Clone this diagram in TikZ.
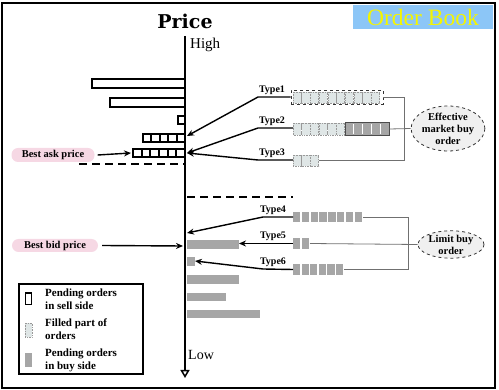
\documentclass[tikz,border=0pt]{standalone}
\usepackage{fontspec}
\setmainfont{Liberation Serif}
\newfontfamily\pricefont{DejaVu Serif}
\usetikzlibrary{arrows.meta,shapes.geometric}
\definecolor{obblue}{HTML}{8CC6F7}
\definecolor{obyellow}{HTML}{F5F500}
\definecolor{pinkpill}{HTML}{F6D8E4}
\definecolor{buygray}{HTML}{A6A6A6}
\definecolor{filled}{HTML}{DFE6E6}
\definecolor{conn}{HTML}{707070}
\definecolor{ellfill}{HTML}{F0F0F0}
\begin{document}
\begin{tikzpicture}[x=1pt,y=-1pt,
  sell/.style={draw=black,line width=1.9pt,fill=white},
  fillcell/.style={draw=gray!80,densely dotted,line width=0.6pt,fill=filled},
  pill/.style={fill=pinkpill,rounded corners=6.5pt,inner sep=0pt,font=\bfseries\fontsize{10.5}{12}\selectfont},
  typelbl/.style={font=\bfseries\fontsize{10}{11}\selectfont,inner sep=1pt},
  blk/.style={line width=1.4pt,-{Stealth[length=7pt,width=6pt]}},
  typeline/.style={line width=1.4pt,-{Stealth[length=7pt,width=6pt]}},
  gline/.style={draw=conn,line width=0.8pt},
  dline/.style={line width=1.5pt,dash pattern=on 8pt off 5pt},
  ell/.style={ellipse,draw=black!80,dashed,line width=0.8pt,fill=ellfill,inner sep=0pt,align=center,font=\bfseries\fontsize{10.5}{12}\selectfont},
  legtxt/.style={anchor=north west,align=left,inner sep=0pt,font=\bfseries\fontsize{11}{13}\selectfont}
]
\useasboundingbox (0,0) rectangle (499,390);
\draw[line width=2pt] (2,3) rectangle (495,388);

% Order book title
\fill[obblue] (353,5) rectangle (493,29);
\node[text=obyellow,font=\fontsize{23.5}{26}\selectfont,inner sep=0pt] (ob) at (423,17) {Order Book};

% Price axis
\node[font=\pricefont\bfseries\fontsize{19}{22}\selectfont,inner sep=0pt] (price) at (185,21) {Price};
\coordinate (axtop) at (185,36);
\coordinate (axbot) at (185,378);
\draw[line width=2pt,-{Triangle[open,length=8pt,width=9pt,line width=1.5pt]}] (axtop) -- (axbot);
\node[anchor=west,font=\fontsize{15}{17}\selectfont,inner sep=0pt] (high) at (190,45) {High};
\node[anchor=west,font=\fontsize{14}{16}\selectfont,inner sep=0pt] (low) at (188,355) {Low};

% Sell side bars
\draw[sell] (92,79) rectangle (185,88);
\draw[sell] (110,98) rectangle (185,107);
\draw[sell] (178,116) rectangle (185,124);
\foreach \i in {0,...,4} \draw[sell] ({143+\i*8.4},134) rectangle ++(8.4,8);
\foreach \i in {0,...,5} \draw[sell] ({133+\i*8.667},149) rectangle ++(8.667,8);
\draw[dline] (79,164) -- (185,164);
\coordinate (askbar) at (131,153);
\coordinate (tip1) at (187,136);
\coordinate (tip23) at (187,153);

% Best ask
\node[pill,minimum width=83pt,minimum height=14pt] (ask) at (53,155) {Best ask price};
\draw[blk] ([xshift=3pt]ask.east) -- (askbar);

% Market buy orders (filled)
\node[draw=black!80,dashed,line width=0.8pt,minimum width=92pt,minimum height=14pt,inner sep=0pt] (b1) at (337,97) {};
\foreach \i in {0,...,9} \draw[fillcell] ({293+\i*8.7},92) rectangle ++(8.2,11);
\foreach \i in {0,...,5} \draw[fillcell] ({293+\i*8.67},123) rectangle ++(8.2,12);
\node[draw=black!70,fill=buygray,line width=1pt,minimum width=44pt,minimum height=13pt,inner sep=0pt] (b2d) at (367,129) {};
\foreach \i in {1,...,4} \draw[white,line width=1.2pt] ({345+\i*8.8},124) -- ({345+\i*8.8},134.5);
\coordinate (b2w) at (293,128);
\foreach \i in {0,...,2} \draw[fillcell] ({293+\i*8.67},155) rectangle ++(8.2,11);
\coordinate (b3w) at (293,160);
\coordinate (b3e) at (319,160);

\node[ell,minimum width=70pt,minimum height=45pt] (mkt) at (448,128.5) {Effective\\market buy\\order};
\draw[gline] (b1.east) -- (404,97) -- (404,160) -- (b3e);
\draw[gline] (b2d.east) -- (mkt.west);

% Type 1-3 connectors
\draw[typeline] (b1.west) -- (258,97) -- (tip1);
\node[typelbl,anchor=south] (t1) at (272,96) {Type1};
\draw[typeline] (b2w) -- (258,128) -- (tip23);
\node[typelbl,anchor=south] (t2) at (272,127) {Type2};
\draw[typeline] (b3w) -- (258,160) -- (tip23);
\node[typelbl,anchor=south] (t3) at (272,159) {Type3};

% Buy side
\draw[dline] (187,197) -- (293,197);
\fill[buygray] (187,240) rectangle (239,249);
\fill[buygray] (187,257) rectangle (195,266);
\fill[buygray] (187,275) rectangle (239,284);
\fill[buygray] (187,293) rectangle (226,301);
\fill[buygray] (187,310) rectangle (260,318);
\coordinate (bidbar) at (183,246);
\coordinate (tip4) at (187,233);
\coordinate (tip5) at (239,243.5);
\coordinate (tip6) at (195,261);

\node[pill,minimum width=86pt,minimum height=13pt] (bid) at (55,245.5) {Best bid price};
\draw[blk] ([xshift=4pt]bid.east) -- (bidbar);

% Limit buy orders
\foreach \i in {0,...,7} \fill[buygray] ({293+\i*8.8},212) rectangle ++(7.4,10);
\foreach \i in {0,...,1} \fill[buygray] ({293+\i*8.8},238) rectangle ++(7.4,11);
\foreach \i in {0,...,5} \fill[buygray] ({293+\i*8.6},264) rectangle ++(7.2,11);
\coordinate (b4w) at (293,217);
\coordinate (b4e) at (363,217);
\coordinate (b5w) at (293,243.5);
\coordinate (b5e) at (310,243.5);
\coordinate (b6w) at (293,269.5);
\coordinate (b6e) at (344,269.5);

\node[ell,minimum width=66pt,minimum height=27pt] (lim) at (451,244.5) {Limit buy\\order};
\draw[gline] (b4e) -- (408,217) -- (408,269.5) -- (b6e);
\draw[gline] (b5e) -- (lim.west);

\draw[typeline] (b4w) -- (263,217) -- (tip4);
\node[typelbl,anchor=south] (t4) at (273,216) {Type4};
\draw[typeline] (b5w) -- (tip5);
\node[typelbl,anchor=south] (t5) at (273,242) {Type5};
\draw[typeline] (b6w) -- (263,269) -- (tip6);
\node[typelbl,anchor=south] (t6) at (273,268) {Type6};

% Legend
\draw[line width=1.2pt] (19,284) rectangle (143,374);
\draw[line width=1.8pt,fill=white] (25.5,293) rectangle (31.5,304.5);
\node[legtxt] (l1) at (45,289) {Pending orders\\in sell side};
\draw[fillcell] (25,323) rectangle (32,337);
\node[legtxt] (l2) at (45,319) {Filled part of\\orders};
\fill[buygray] (25,353) rectangle (32,367);
\node[legtxt] (l3) at (45,349) {Pending orders\\in buy side};
\end{tikzpicture}
\end{document}
